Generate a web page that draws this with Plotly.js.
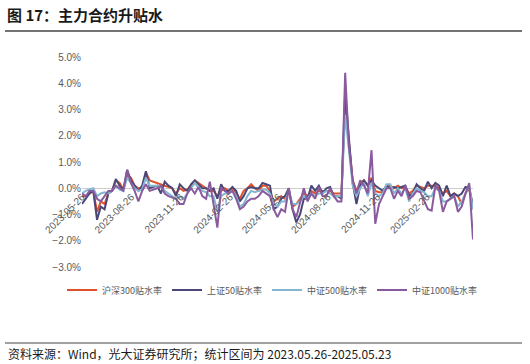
<!DOCTYPE html>
<html><head><meta charset="utf-8">
<script src="https://cdn.plot.ly/plotly-3.0.1.min.js"></script>
<style>html,body{margin:0;padding:0;background:#fff}#c{width:530px;height:364px}</style>
</head><body><div id="c"></div>
<script>
const dates = [
"2023-05-26","2023-06-02","2023-06-09","2023-06-16","2023-06-23","2023-06-30","2023-07-07","2023-07-14","2023-07-21","2023-07-28",
"2023-08-04","2023-08-11","2023-08-18","2023-08-25","2023-09-01","2023-09-08","2023-09-15","2023-09-22","2023-09-29","2023-10-06",
"2023-10-13","2023-10-20","2023-10-27","2023-11-03","2023-11-10","2023-11-17","2023-11-24","2023-12-01","2023-12-08","2023-12-15",
"2023-12-22","2023-12-29","2024-01-05","2024-01-12","2024-01-19","2024-01-26","2024-02-02","2024-02-09","2024-02-16","2024-02-23",
"2024-03-01","2024-03-08","2024-03-15","2024-03-22","2024-03-29","2024-04-05","2024-04-12","2024-04-19","2024-04-26","2024-05-03",
"2024-05-10","2024-05-17","2024-05-24","2024-05-31","2024-06-07","2024-06-14","2024-06-21","2024-06-28","2024-07-05","2024-07-12",
"2024-07-19","2024-07-26","2024-08-02","2024-08-09","2024-08-16","2024-08-23","2024-08-30","2024-09-06","2024-09-13","2024-09-20",
"2024-09-27","2024-10-04","2024-10-11","2024-10-18","2024-10-25","2024-11-01","2024-11-08","2024-11-15","2024-11-22","2024-11-29",
"2024-12-06","2024-12-13","2024-12-20","2024-12-27","2025-01-03","2025-01-10","2025-01-17","2025-01-24","2025-01-31","2025-02-07",
"2025-02-14","2025-02-21","2025-02-28","2025-03-07","2025-03-14","2025-03-21","2025-03-28","2025-04-04","2025-04-11","2025-04-18",
"2025-04-25","2025-05-02","2025-05-09","2025-05-16","2025-05-23"];

const hs300 = [-0.3,-0.3,-0.2,-0.1,-0.9,-0.5,-0.6,-0.2,-0.1,0.3,
0.2,-0.05,0.5,0.4,0.1,0.0,0.0,0.6,0.3,0.25,
0.2,0.15,0.1,0.05,0.0,-0.2,0.0,-0.1,-0.05,0.1,
0.3,0.2,0.1,0.0,-0.1,-0.1,-0.3,-0.1,0.0,-0.1,
0.0,-0.2,-0.4,-0.1,0.0,0.15,0.0,-0.1,0.1,0.1,
-0.1,-0.5,-0.4,-0.3,-0.4,-0.1,-0.7,-0.6,-0.4,-0.2,
-0.3,-0.1,-0.2,-0.1,-0.1,-0.1,-0.1,-0.2,-0.2,-0.2,
3.2,1.7,0.3,-0.1,0.2,0.3,0.1,0.4,-0.1,-0.15,
-0.15,0.1,0.1,0.0,0.1,0.0,0.05,-0.2,-0.1,0.1,
0.05,0.0,0.1,0.1,0.1,0.0,-0.2,-0.1,-0.3,-0.2,
-0.3,-0.6,-0.2,0.0,-0.8];

const sz50 = [-0.6,-0.4,-0.2,-0.1,-1.2,-0.7,-0.8,-0.2,-0.1,0.35,
0.1,-0.05,0.7,0.3,0.1,-0.1,0.1,0.65,0.0,0.05,
0.1,-0.2,0.25,0.1,0.0,-0.3,0.15,0.0,-0.1,0.15,
0.3,0.15,0.0,0.0,-0.1,0.0,-0.4,0.15,-0.1,-0.1,
0.05,-0.1,-0.5,-0.3,0.0,0.05,0.0,0.0,0.2,0.15,
0.1,-0.8,-0.7,-0.4,-0.3,0.0,-0.8,-1.3,-1.0,-0.4,
-0.4,0.1,-0.1,0.1,-0.2,0.0,0.05,-0.3,-0.3,-0.4,
3.7,1.9,0.2,-0.6,0.1,0.3,0.1,0.3,0.1,0.0,
-0.1,0.1,0.0,0.05,0.0,0.05,0.1,-0.3,-0.2,0.15,
0.0,-0.1,0.25,0.0,0.2,0.1,-0.3,0.1,-0.3,-0.2,
-0.3,-0.2,0.05,0.0,-0.65];

const zz500 = [-0.2,-0.1,-0.05,0.0,-0.3,-0.2,-0.15,-0.2,-0.1,0.1,
-0.05,-0.1,0.4,0.2,0.0,-0.1,-0.05,0.4,0.1,0.1,
0.1,0.05,-0.1,-0.2,-0.3,-0.4,-0.3,-0.4,-0.2,0.0,
0.2,0.0,-0.1,-0.15,-0.3,-0.3,-0.9,-0.3,-0.2,-0.2,
-0.1,-0.3,-0.7,-0.6,-0.3,-0.1,-0.15,-0.1,-0.05,-0.05,
-0.2,-0.6,-0.7,-0.5,-0.5,-0.1,-0.6,-0.6,-0.5,-0.3,
-0.4,-0.2,-0.3,-0.2,-0.2,-0.1,-0.2,-0.3,-0.3,-0.3,
2.8,1.5,0.1,-0.3,0.0,0.2,-0.3,0.2,-0.2,-0.3,
-0.2,0.15,0.15,-0.2,0.0,-0.2,0.0,-0.5,-0.2,0.0,
-0.1,-0.15,-0.3,-0.3,0.0,-0.1,-0.5,-0.5,-0.4,-0.3,
-0.7,-0.5,-0.2,0.1,-0.8];

const zz1000 = [-0.2,-0.3,-0.1,-0.1,-0.4,-0.5,-0.3,-0.1,-0.1,0.1,
0.0,-0.1,0.7,0.2,-0.1,-0.5,-0.1,0.15,-0.1,-0.05,
0.0,0.1,-0.2,-0.3,-0.35,-0.4,-0.6,-0.6,-0.2,0.0,
-0.2,0.05,-0.3,-0.4,0.25,-0.7,-1.5,0.0,-0.1,-0.2,
-0.1,-0.4,-0.8,-0.7,-0.5,-0.4,-0.4,-0.3,-0.1,-0.2,
-0.3,-0.8,-1.1,-0.8,-0.9,0.0,-0.8,-1.1,-0.6,0.0,
-0.5,-0.2,-0.4,0.05,-0.3,-0.3,0.0,-0.3,-0.5,-0.5,
4.4,1.6,0.3,-0.2,0.3,0.1,-0.2,1.45,-1.35,-0.6,
-0.3,0.0,0.0,-0.4,-0.1,-0.3,0.1,-0.4,-0.3,-0.1,
-0.15,-0.5,-0.8,-0.85,0.1,-0.1,-0.9,-0.5,-0.4,-0.3,
-0.9,-0.7,-0.2,0.2,-1.95];

const seriesNames = ["沪深300贴水率","上证50贴水率","中证500贴水率","中证1000贴水率"];
const seriesColors = ["#E0502B","#4B4878","#84B6D2","#8A5A9E"];
const tickDates = ["2023-05-26","2023-08-26","2023-11-26","2024-02-26","2024-05-26","2024-08-26","2024-11-26","2025-02-26"];

const allSeries = [hs300, sz50, zz500, zz1000];
const traces = allSeries.map((s,i)=>({
  x: dates, y: s, type:'scatter', mode:'lines', name: seriesNames[i],
  line:{color: seriesColors[i], width:2}
}));

const F = '"Liberation Sans", Arial, sans-serif';
const CJK = '"Noto Sans CJK SC", sans-serif';
const px = v => (v-82)/391;
const py = v => 1-(v-57)/210;

const layout = {
  width:530, height:364,
  margin:{l:82, r:57, t:57, b:97, autoexpand:false},
  paper_bgcolor:'#fff', plot_bgcolor:'#fff',
  showlegend:true,
  title:{text:'<b>图 17：主力合约升贴水</b>', x:7/530, xanchor:'left', xref:'container',
         y:1-16/364, yanchor:'middle', yref:'container',
         font:{family:CJK, size:15, color:'#1a1a1a'}},
  xaxis:{type:'date', range:['2023-05-26','2025-05-23'],
         tickvals: tickDates, ticktext: tickDates, tickangle:-45,
         anchor:'free', position:0.375, showline:false, showgrid:false, zeroline:false,
         ticks:'', tickfont:{family:F, size:10, color:'#595959'}},
  yaxis:{range:[-3,5], dtick:1, tickformat:'.1f', ticksuffix:'%', showgrid:false,
         zeroline:true, zerolinecolor:'#cccccc', zerolinewidth:1, showline:false,
         ticks:'', tickfont:{family:F, size:10, color:'#595959'}},
  legend:{orientation:'h', xref:'paper', yref:'paper', x:px(62), xanchor:'left',
          y:py(290), yanchor:'middle', font:{family:CJK, size:9, color:'#595959'},
          bgcolor:'rgba(0,0,0,0)', itemwidth:30, tracegroupgap:0},
  shapes:[
    {type:'line', xref:'paper', yref:'paper', x0:px(5), x1:px(522), y0:py(31), y1:py(31), line:{color:'#444', width:1.5}},
    {type:'line', xref:'paper', yref:'paper', x0:px(5), x1:px(522), y0:py(343), y1:py(343), line:{color:'#444', width:1}}
  ],
  annotations:[
    {xref:'paper', yref:'paper', x:px(6), y:py(353), xanchor:'left', yanchor:'middle', showarrow:false,
     text:'资料来源：Wind，光大证券研究所；统计区间为 2023.05.26-2025.05.23',
     font:{family:CJK, size:12, color:'#1a1a1a'}}
  ]
};
Plotly.newPlot('c', traces, layout, {displayModeBar:false, staticPlot:true});
</script></body></html>
